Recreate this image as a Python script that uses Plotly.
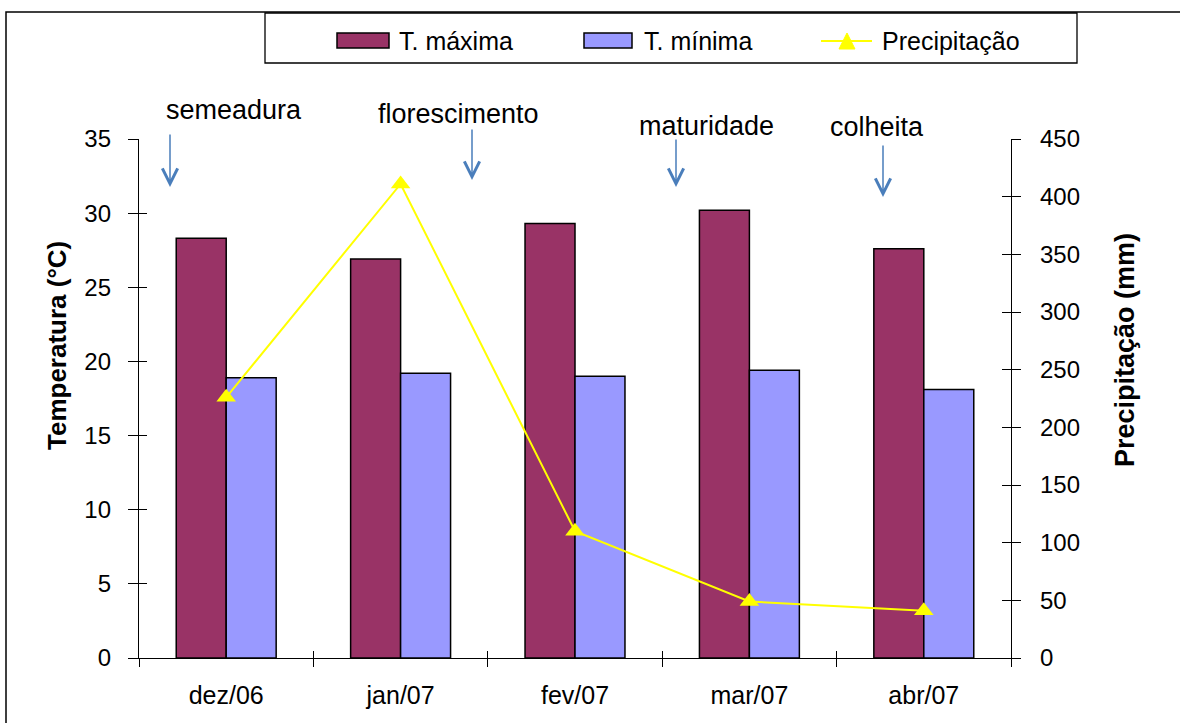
import plotly.graph_objects as go

# ---- data ----
months = ["dez/06", "jan/07", "fev/07", "mar/07", "abr/07"]
t_max = [28.3, 26.9, 29.3, 30.2, 27.6]
t_min = [18.9, 19.2, 19.0, 19.4, 18.1]
precip = [226, 411, 110, 49, 41]
stages = ["semeadura", "florescimento", "maturidade", "colheita"]
series_names = ["T. máxima", "T. mínima", "Precipitação"]

FONT = "Liberation Sans, Arial, sans-serif"
C_MAX, C_MIN, C_PRE, C_ARROW = "#993366", "#9999FF", "#FFFF00", "#4A7EBB"
W, H = 1180, 723
L, R, T, B = 139, 1011, 139, 658      # plot area in pixels


def px(x):
    return (x - L) / (R - L)


def py(y):
    return (B - y) / (B - T)


fig = go.Figure()
fig.add_trace(go.Bar(x=months, y=t_max, name=series_names[0], showlegend=False,
                     marker=dict(color=C_MAX, line=dict(color="black", width=1.5)), yaxis="y"))
fig.add_trace(go.Bar(x=months, y=t_min, name=series_names[1], showlegend=False,
                     marker=dict(color=C_MIN, line=dict(color="black", width=1.5)), yaxis="y"))
fig.add_trace(go.Scatter(x=months, y=precip, name=series_names[2], mode="lines+markers", yaxis="y2",
                         showlegend=False, line=dict(color=C_PRE, width=2),
                         marker=dict(symbol="triangle-up", size=17, color=C_PRE)))
# invisible helper traces for the inward half of the cross tick marks
fig.add_trace(go.Scatter(x=months, y=[None] * len(months), xaxis="x2", yaxis="y3", showlegend=False, hoverinfo="skip"))
fig.add_trace(go.Scatter(x=months, y=[None] * len(months), xaxis="x2", yaxis="y4", showlegend=False, hoverinfo="skip"))

tickfont = dict(family=FONT, size=24, color="black")
xtickfont = dict(family=FONT, size=25, color="black")

fig.update_layout(
    width=W, height=H,
    margin=dict(l=L, r=W - R, t=T, b=H - B, autoexpand=False),
    paper_bgcolor="white", plot_bgcolor="white",
    barmode="group", bargap=0.427, bargroupgap=0,
    font=dict(family=FONT, size=24, color="black"),
    showlegend=False,
    xaxis=dict(type="category", range=[-0.5, 4.5], showgrid=False, showline=True, linecolor="black", linewidth=1.3,
               ticks="outside", ticklen=8, tickcolor="black", tickwidth=1.3, tickson="boundaries",
               tickfont=xtickfont, ticklabelstandoff=15, zeroline=False),
    xaxis2=dict(type="category", range=[-0.5, 4.5], overlaying="x", anchor="y", side="bottom", showgrid=False,
                showline=False, ticks="inside", ticklen=7, tickcolor="black", tickwidth=1.3, tickson="boundaries",
                showticklabels=False, zeroline=False, categoryorder="array", categoryarray=months),
    yaxis=dict(range=[0, 35], dtick=5, showgrid=False, showline=True, linecolor="black", linewidth=1.3,
               ticks="outside", ticklen=10, tickcolor="black", tickwidth=1.3, tickfont=tickfont,
               ticklabelstandoff=12, zeroline=False),
    yaxis2=dict(range=[0, 450], dtick=50, overlaying="y", side="right", showgrid=False, showline=True,
                linecolor="black", linewidth=1.3, ticks="outside", ticklen=9, tickcolor="black", tickwidth=1.3,
                tickfont=tickfont, ticklabelstandoff=14, zeroline=False),
    yaxis3=dict(range=[0, 35], dtick=5, overlaying="y", anchor="x", side="left", showgrid=False, showline=False,
                ticks="inside", ticklen=8, tickcolor="black", tickwidth=1.3, showticklabels=False, zeroline=False),
    yaxis4=dict(range=[0, 450], dtick=50, overlaying="y", anchor="x", side="right", showgrid=False, showline=False,
                ticks="inside", ticklen=9, tickcolor="black", tickwidth=1.3, showticklabels=False, zeroline=False),
)

# axis titles
fig.add_annotation(x=px(57), y=py(346), xref="paper", yref="paper", text="<b>Temperatura (°C)</b>",
                   textangle=-90, showarrow=False, xanchor="center", yanchor="middle",
                   font=dict(family=FONT, size=26, color="black"))
fig.add_annotation(x=px(1125), y=py(350), xref="paper", yref="paper", text="<b>Precipitação (mm)</b>",
                   textangle=-90, showarrow=False, xanchor="center", yanchor="middle",
                   font=dict(family=FONT, size=27, color="black"))

# stage labels and arrows
label_pos = [(234, 110), (458, 114), (706, 126), (877, 127)]
arrow_pos = [(170, 187, 133), (472, 180, 128), (676, 187, 138), (883, 197, 144)]
for s, (lx, ly), (ax_, tip, tail) in zip(stages, label_pos, arrow_pos):
    fig.add_annotation(x=px(lx), y=py(ly), xref="paper", yref="paper", text=s, showarrow=False,
                       xanchor="center", yanchor="middle", font=dict(family=FONT, size=27, color="black"))
    fig.add_annotation(x=px(ax_), y=py(tip), xref="paper", yref="paper", text="", showarrow=True,
                       ax=0, ay=-(tip - tail), arrowhead=5, arrowsize=2.0, arrowwidth=1.5, arrowcolor=C_ARROW)

# outer chart border (top and left visible)
fig.add_shape(type="rect", xref="paper", yref="paper", x0=px(6), y0=py(12), x1=px(1200), y1=py(760),
              line=dict(color="black", width=1.5), fillcolor="rgba(0,0,0,0)", layer="below")

# legend drawn manually (Excel-style wide swatches)
fig.add_shape(type="rect", xref="paper", yref="paper", x0=px(265), x1=px(1077), y0=py(63), y1=py(13),
              line=dict(color="black", width=1.3), fillcolor="white", layer="above")
for (x0, x1), col in zip([(337, 389), (584, 632)], [C_MAX, C_MIN]):
    fig.add_shape(type="rect", xref="paper", yref="paper", x0=px(x0), x1=px(x1), y0=py(48), y1=py(33),
                  line=dict(color="black", width=1.5), fillcolor=col, layer="above")
fig.add_shape(type="line", xref="paper", yref="paper", x0=px(821), x1=px(872), y0=py(41), y1=py(41),
              line=dict(color=C_PRE, width=2), layer="above")
tri = "M {:.5f},{:.5f} L {:.5f},{:.5f} L {:.5f},{:.5f} Z".format(px(839), py(49), px(855), py(49), px(847), py(33))
fig.add_shape(type="path", xref="paper", yref="paper", path=tri, line=dict(color=C_PRE, width=1),
              fillcolor=C_PRE, layer="above")
for name, tx in zip(series_names, [397, 642, 880]):
    fig.add_annotation(x=px(tx), y=py(41), xref="paper", yref="paper", text=name, showarrow=False,
                       xanchor="left", yanchor="middle", font=dict(family=FONT, size=25, color="black"))

fig.write_html("out.html", config={"displayModeBar": False},
               post_script="document.body.style.margin='0';document.body.style.overflow='hidden';")
